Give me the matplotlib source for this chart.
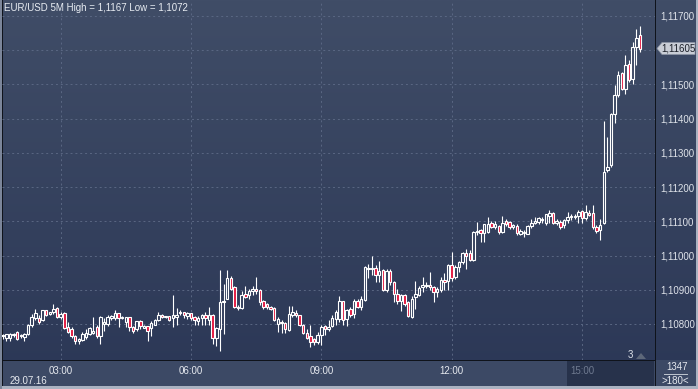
import numpy as np
import matplotlib.pyplot as plt
from matplotlib.patches import Rectangle, Polygon
from matplotlib.lines import Line2D

plt.rcParams['font.family'] = ['Liberation Sans', 'DejaVu Sans']

# EUR/USD 5M candles, 29.07.16 01:40 .. 16:20, values in pips above 1.1000
opens = [76.4, 76.0, 75.8, 76.9, 77.7, 76.9, 76.2, 77.0, 79.6, 81.7, 81.7, 81.1, 84.0, 83.0, 83.4, 84.7,
         82.1, 83.2, 79.2, 78.4, 76.5, 74.9, 75.3, 76.2, 77.2, 77.5, 79.1, 76.5, 80.0, 80.0, 81.7, 81.7, 83.1, 81.7, 80.6, 81.9, 79.2,
         78.4, 80.8, 78.9, 79.3, 78.7, 79.8, 81.2, 82.7, 82.0, 82.2, 81.7, 81.9, 83.1, 83.4, 82.2, 83.1, 81.9, 81.0, 81.7, 82.7,
         81.2, 82.7, 75.8, 78.4, 86.3, 87.4, 93.3, 90.8, 85.0, 84.6, 88.9, 88.4, 89.5, 90.3, 89.8, 86.6, 85.9, 85.1, 84.7, 80.1,
         80.6, 80.4, 78.2, 82.7, 83.3, 82.5, 79.8, 77.5, 76.5, 75.5, 74.8, 76.7, 79.4, 78.4, 79.4, 81.6, 81.6, 86.6, 81.6, 84.5,
         83.0, 86.6, 85.0, 86.9, 96.0, 96.0, 96.3, 94.4, 95.9, 89.8, 95.6, 92.2, 88.8, 86.6, 88.5, 86.3, 82.1, 87.8, 88.6, 90.9,
         91.2, 91.5, 90.9, 89.3, 89.8, 92.9, 92.5, 97.1, 93.7, 96.6, 98.0, 100.7, 100.7, 98.7, 106.8, 107.5, 106.5, 106.8, 109.5, 108.3,
         108.5, 106.8, 110.0, 109.8, 108.3, 108.5, 106.4, 106.6, 106.4, 108.6, 109.4, 109.8, 110.4, 109.5, 111.7, 112.5, 109.6, 109.8, 108.8, 110.3,
         111.3, 111.3, 111.7, 113.0, 111.1, 112.4, 112.4, 108.3, 107.6, 109.6, 124.9, 126.4, 141.5, 146.8, 153.2, 148.8, 156.1, 151.7, 161.0, 164.4]
highs = [77.0, 77.2, 77.5, 77.5, 77.9, 77.0, 77.5, 80.0, 82.8, 84.5, 82.6, 84.1, 84.1, 83.6, 85.9, 84.9,
         83.6, 83.4, 80.6, 79.1, 76.8, 76.0, 77.7, 78.4, 79.1, 82.1, 79.8, 82.2, 81.7, 82.6, 82.5, 84.1, 83.1, 82.2, 82.1, 82.1, 79.5,
         81.0, 81.2, 79.6, 79.5, 80.8, 81.5, 83.4, 82.9, 82.4, 82.4, 88.6, 84.6, 84.1, 83.6, 83.6, 83.2, 82.2, 82.2, 82.9, 83.6,
         85.0, 82.9, 79.0, 95.8, 91.8, 95.8, 94.1, 91.2, 85.5, 89.5, 91.2, 90.3, 91.2, 93.6, 90.3, 86.9, 86.2, 85.3, 85.0, 82.0,
         81.1, 80.6, 85.4, 85.4, 84.0, 82.7, 80.0, 78.4, 79.6, 75.9, 77.7, 79.6, 79.8, 81.2, 82.5, 84.0, 88.2, 86.8, 84.5, 85.0,
         87.4, 87.2, 88.3, 96.9, 97.6, 100.0, 97.1, 98.5, 96.1, 96.1, 96.0, 92.7, 90.2, 88.8, 88.8, 86.6, 88.3, 92.7, 91.2, 93.7,
         92.2, 95.1, 91.2, 90.7, 93.7, 94.8, 97.6, 101.0, 97.1, 98.5, 101.0, 102.0, 101.5, 107.3, 109.8, 107.8, 109.3, 111.2, 110.2, 110.2,
         108.8, 111.7, 110.7, 110.0, 109.3, 109.1, 107.9, 107.4, 108.8, 110.6, 111.3, 111.3, 111.3, 112.2, 113.2, 112.7, 110.6, 110.3, 110.8, 112.7,
         112.0, 112.0, 113.2, 113.2, 114.7, 113.2, 114.7, 108.8, 110.6, 139.2, 134.6, 141.6, 149.8, 153.9, 153.7, 158.7, 157.1, 162.4, 166.3, 167.0]
lows = [75.6, 75.1, 74.9, 76.2, 75.3, 75.8, 75.1, 76.8, 79.1, 81.1, 80.0, 80.9, 82.4, 82.6, 82.8, 81.7,
        81.5, 78.5, 77.5, 75.8, 74.3, 74.3, 75.1, 75.6, 76.8, 77.0, 76.0, 74.3, 77.9, 79.4, 81.2, 81.2, 79.1, 81.5, 79.1, 78.1, 77.5,
        78.0, 78.4, 78.7, 75.0, 76.5, 79.6, 81.0, 81.7, 81.7, 81.0, 79.0, 79.8, 82.7, 81.7, 81.5, 81.2, 79.8, 79.8, 79.8, 79.8,
        79.8, 74.1, 73.6, 72.0, 77.0, 87.2, 89.8, 84.6, 84.1, 84.4, 87.6, 87.4, 88.6, 88.9, 85.5, 84.5, 84.5, 84.2, 80.8, 77.7,
        77.5, 77.5, 77.9, 82.0, 82.0, 79.4, 77.2, 75.5, 73.3, 74.0, 74.3, 74.0, 76.7, 78.0, 79.1, 79.6, 80.6, 79.6, 79.4, 82.0,
        81.7, 84.7, 84.0, 86.6, 93.4, 94.2, 92.2, 92.2, 89.5, 89.3, 91.5, 86.3, 85.9, 83.7, 85.4, 82.0, 81.8, 84.4, 88.3, 89.3,
        90.5, 89.8, 86.3, 87.8, 89.3, 89.8, 89.8, 92.7, 93.2, 95.1, 97.6, 96.1, 98.5, 98.5, 105.9, 103.9, 103.9, 106.5, 108.1, 107.8,
        106.3, 106.5, 108.5, 107.8, 107.8, 106.1, 105.9, 105.4, 106.2, 108.1, 109.3, 109.3, 109.6, 108.8, 109.4, 109.3, 109.0, 107.9, 108.1, 109.6,
        110.3, 110.8, 109.6, 109.6, 110.3, 111.6, 107.9, 106.7, 104.4, 109.3, 124.4, 125.9, 138.6, 146.4, 148.3, 147.3, 150.7, 150.0, 155.6, 159.5]
closes = [76.6, 77.0, 77.2, 77.2, 75.6, 76.4, 77.0, 79.8, 81.9, 83.1, 80.6, 84.0, 82.6, 83.4, 84.3, 81.9,
          83.0, 78.7, 77.7, 76.5, 75.1, 75.6, 77.0, 77.5, 78.7, 77.9, 76.5, 81.9, 80.6, 82.1, 82.2, 83.1, 81.7, 82.1, 81.9, 79.1, 77.9,
          80.8, 79.3, 79.3, 78.1, 80.3, 81.2, 82.7, 82.1, 82.2, 81.2, 82.7, 82.7, 83.6, 82.5, 83.1, 81.7, 81.2, 81.7, 82.7, 81.7,
          82.7, 75.8, 78.7, 86.5, 86.7, 93.3, 90.3, 85.0, 84.6, 88.4, 87.9, 89.5, 90.3, 89.5, 86.5, 85.0, 85.0, 84.5, 81.1, 81.6,
          80.3, 78.4, 83.0, 83.5, 82.5, 79.8, 77.5, 75.9, 74.8, 74.8, 76.7, 79.1, 78.4, 79.1, 81.7, 83.5, 86.6, 81.1, 84.0, 82.7,
          86.6, 85.0, 87.4, 96.6, 96.3, 96.3, 94.4, 95.6, 89.8, 95.6, 92.2, 88.8, 86.8, 88.5, 85.7, 82.4, 87.3, 88.8, 90.5, 91.4,
          91.4, 90.7, 89.3, 90.2, 92.9, 92.2, 97.1, 93.5, 96.6, 98.0, 100.7, 100.0, 98.7, 106.8, 107.3, 106.5, 109.1, 109.1, 108.3, 109.1,
          106.8, 109.5, 109.1, 108.3, 108.8, 106.5, 107.1, 106.9, 108.6, 109.6, 110.2, 111.1, 110.6, 112.0, 112.3, 109.6, 110.1, 108.3, 110.3, 111.3,
          111.7, 111.7, 112.7, 111.1, 112.7, 111.9, 108.2, 107.1, 109.0, 124.4, 126.0, 141.5, 146.8, 152.7, 148.8, 155.8, 151.2, 161.0, 163.6, 160.5]

price_ticks = [1.108, 1.109, 1.110, 1.111, 1.112, 1.113, 1.114, 1.115, 1.116, 1.117]
time_ticks = [3, 6, 9, 12, 15]
time_labels = ['03:00', '06:00', '09:00', '12:00', '15:00']
last_price = 1.11605
day_high = 1.1167
day_low = 1.1072
date_label = '29.07.16'

o = 1.1 + np.array(opens) / 10000
h = 1.1 + np.array(highs) / 10000
l = 1.1 + np.array(lows) / 10000
c = 1.1 + np.array(closes) / 10000
hours = 1 + 40 / 60 + np.arange(len(o)) * 5 / 60

W, H = 698, 389
fig = plt.figure(figsize=(W / 100, H / 100), dpi=100)


def fx(px):
    return px / W


def fy(py):
    return 1 - py / H


top_c = np.array([64, 77, 103]) / 255
bot_c = np.array([43, 55, 86]) / 255
red = '#e3173e'

bg = fig.add_axes([0, 0, 1, 1])
bg.axis('off')
g = np.linspace(0, 1, 256)[:, None, None]
bg.imshow(top_c * (1 - g) + bot_c * g, aspect='auto', extent=[0, 1, 0, 1])
bg.set_xlim(0, 1)
bg.set_ylim(0, 1)


def rect(x0, y0, x1, y1, color):
    bg.add_patch(Rectangle((fx(x0), fy(y1)), fx(x1) - fx(x0), fy(y0) - fy(y1),
                           facecolor=color, edgecolor='none', zorder=2))


# bottom strip, dark box for the current session, frame
rect(2, 360, 696, 386, '#3c4965')
rect(567, 361, 654, 386, '#27324b')
rect(0, 386, 698, 389, '#aab2c1')
rect(696, 0, 698, 389, '#aab2c1')
rect(0, 0, 2, 389, '#7c869a')
rect(2, 0, 3, 386, '#0f131b')
rect(654.5, 0, 656, 386, '#0f131b')
rect(2, 359.5, 656, 361, '#0f131b')

ymin, ymax = 1.106948, 1.117409
ax = fig.add_axes([fx(2), fy(360), fx(655) - fx(2), fy(2) - fy(360)])
ax.patch.set_alpha(0)
ax.set_xlim(1.65, 16.68)
ax.set_ylim(ymin, ymax)
for s in ax.spines.values():
    s.set_visible(False)

# the price tag hides the tick label right under it
ax.set_yticks(price_ticks)
ax.set_yticklabels(['' if abs(v - last_price) < 0.0002 else f"{v:.5f}".replace('.', ',')
                    for v in price_ticks])
ax.yaxis.tick_right()
ax.tick_params(axis='y', length=0, pad=4, labelsize=7, labelcolor='#dfe3ea')
ax.set_xticks(time_ticks)
ax.set_xticklabels(time_labels)
ax.tick_params(axis='x', length=0, pad=4, labelsize=7, labelcolor='#e6e9ef')
ax.get_xticklabels()[-1].set_color('#6f7a90')
ax.grid(color='#5a6783', linestyle=(0, (2, 3)), linewidth=0.7, zorder=1)
ax.set_axisbelow(True)

up = c >= o
bottom = np.minimum(o, c)
height = np.maximum(np.abs(c - o), 0.000025)
frac = (2 + (ymax - (o + c) / 2) / (ymax - ymin) * 358) / H
fills = [tuple(top_c * (1 - f) + bot_c * f) if u else red for u, f in zip(up, frac)]
ax.vlines(hours, l, h, color='white', linewidth=0.8, zorder=2)
ax.bar(hours, height, bottom=bottom, width=0.68 * 5 / 60, color=fills,
       edgecolor='white', linewidth=0.8, zorder=3)

# texts
fig.text(fx(4), fy(8), f"EUR/USD 5M High = {day_high:.4f} Low = {day_low:.4f}".replace('.', ','),
         fontsize=7, color='#e8ecf2', va='center', ha='left')
fig.text(fx(28), fy(380.5), date_label, fontsize=7, color='#e6e9ef', va='center', ha='center')
fig.text(fx(677), fy(367), '1347', fontsize=7, color='#e6e9ef', va='center', ha='center')
bg.add_line(Line2D([fx(664), fx(687)], [fy(374), fy(374)], color='#c0c6d0', linewidth=0.7, zorder=3))
fig.text(fx(675), fy(380.5), '>180<', fontsize=7, color='#e6e9ef', va='center', ha='center')
fig.text(fx(630), fy(355), '3', fontsize=7, color='#dfe3ea', va='center', ha='center')
bg.add_patch(Polygon([(fx(636), fy(359)), (fx(646), fy(359)), (fx(641), fy(353))],
                     closed=True, facecolor='#5d6779', edgecolor='none', zorder=3))

# last price tag
py = 2 + (ymax - last_price) / (ymax - ymin) * 358
tag = [(657, py), (662, py - 6), (695, py - 6), (695, py + 6), (662, py + 6)]
fig.add_artist(Polygon([(fx(x), fy(y)) for x, y in tag], closed=True, transform=fig.transFigure,
                       facecolor='#c9cdd6', edgecolor='#8d95a5', linewidth=0.5, zorder=5))
fig.text(fx(678), fy(py), f"{last_price:.5f}".replace('.', ','), fontsize=7,
         color='#1b1f28', va='center', ha='center', zorder=6)

fig.savefig('out.png', dpi=100)
